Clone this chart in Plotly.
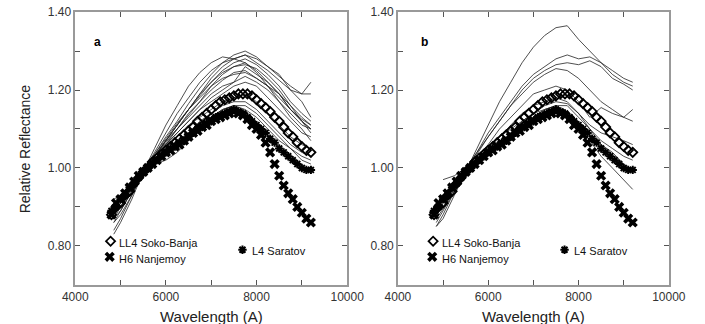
import plotly.graph_objects as go

# ---------------- data ----------------
grid_w = [4850, 5000, 5250, 5500, 5750, 6000, 6250, 6500, 6750, 7000,
          7250, 7500, 7750, 8000, 8250, 8500, 8750, 9000, 9200]

spectra_a = [
    [0.86, 0.89, 0.94, 0.99, 1.05, 1.11, 1.16, 1.21, 1.245, 1.27, 1.285, 1.28, 1.27, 1.245, 1.21, 1.18, 1.15, 1.125, 1.11],
    [0.84, 0.87, 0.93, 0.99, 1.035, 1.08, 1.12, 1.165, 1.205, 1.24, 1.27, 1.29, 1.30, 1.285, 1.26, 1.235, 1.21, 1.19, 1.22],
    [0.87, 0.90, 0.945, 0.99, 1.03, 1.07, 1.11, 1.15, 1.19, 1.23, 1.26, 1.28, 1.29, 1.27, 1.25, 1.225, 1.20, 1.19, 1.19],
    [0.88, 0.90, 0.95, 0.99, 1.03, 1.07, 1.11, 1.15, 1.185, 1.22, 1.25, 1.27, 1.28, 1.265, 1.24, 1.21, 1.17, 1.14, 1.12],
    [0.89, 0.91, 0.95, 1.00, 1.03, 1.07, 1.10, 1.14, 1.17, 1.21, 1.24, 1.26, 1.27, 1.25, 1.22, 1.19, 1.16, 1.13, 1.11],
    [0.88, 0.90, 0.95, 0.99, 1.03, 1.06, 1.10, 1.13, 1.16, 1.19, 1.21, 1.22, 1.26, 1.24, 1.22, 1.19, 1.15, 1.12, 1.10],
    [0.90, 0.92, 0.95, 0.99, 1.02, 1.06, 1.09, 1.12, 1.15, 1.18, 1.20, 1.22, 1.235, 1.22, 1.20, 1.17, 1.14, 1.11, 1.10],
    [0.89, 0.91, 0.95, 1.00, 1.03, 1.06, 1.09, 1.12, 1.15, 1.17, 1.19, 1.21, 1.22, 1.21, 1.18, 1.15, 1.12, 1.09, 1.08],
    [0.90, 0.92, 0.95, 0.99, 1.02, 1.05, 1.08, 1.11, 1.13, 1.15, 1.17, 1.18, 1.19, 1.17, 1.14, 1.11, 1.08, 1.06, 1.05],
    [0.91, 0.92, 0.96, 0.99, 1.02, 1.04, 1.07, 1.09, 1.12, 1.14, 1.16, 1.17, 1.17, 1.15, 1.12, 1.09, 1.06, 1.04, 1.03],
    [0.89, 0.91, 0.95, 0.99, 1.01, 1.02, 1.04, 1.07, 1.10, 1.13, 1.15, 1.16, 1.16, 1.14, 1.11, 1.08, 1.05, 1.03, 1.02],
    [0.90, 0.93, 0.96, 1.00, 1.02, 1.04, 1.06, 1.09, 1.11, 1.13, 1.15, 1.16, 1.15, 1.13, 1.10, 1.07, 1.05, 1.02, 1.01],
    [0.92, 0.93, 0.96, 0.99, 1.03, 1.07, 1.11, 1.15, 1.18, 1.21, 1.23, 1.24, 1.245, 1.23, 1.21, 1.19, 1.15, 1.12, 1.09],
    [0.86, 0.88, 0.93, 0.99, 1.04, 1.09, 1.14, 1.18, 1.22, 1.25, 1.27, 1.28, 1.29, 1.28, 1.26, 1.24, 1.20, 1.17, 1.13],
    [0.83, 0.86, 0.92, 0.99, 1.035, 1.075, 1.115, 1.15, 1.19, 1.22, 1.245, 1.26, 1.265, 1.255, 1.23, 1.20, 1.16, 1.12, 1.10],
    [0.87, 0.89, 0.94, 0.99, 1.03, 1.065, 1.10, 1.135, 1.17, 1.20, 1.225, 1.245, 1.25, 1.23, 1.21, 1.17, 1.13, 1.10, 1.07],
]

spectra_b = [
    [0.85, 0.88, 0.94, 0.99, 1.05, 1.11, 1.17, 1.22, 1.27, 1.31, 1.34, 1.36, 1.365, 1.33, 1.30, 1.27, 1.25, 1.23, 1.22],
    [0.86, 0.89, 0.94, 0.99, 1.04, 1.09, 1.13, 1.17, 1.21, 1.24, 1.26, 1.28, 1.29, 1.28, 1.285, 1.27, 1.24, 1.22, 1.21],
    [0.87, 0.895, 0.945, 0.99, 1.035, 1.08, 1.12, 1.16, 1.20, 1.23, 1.25, 1.265, 1.27, 1.265, 1.275, 1.26, 1.23, 1.215, 1.20],
    [0.88, 0.90, 0.95, 1.00, 1.04, 1.08, 1.12, 1.16, 1.19, 1.22, 1.24, 1.255, 1.25, 1.23, 1.20, 1.17, 1.15, 1.13, 1.12],
    [0.90, 0.92, 0.96, 1.00, 1.03, 1.06, 1.10, 1.13, 1.16, 1.19, 1.20, 1.21, 1.20, 1.17, 1.13, 1.155, 1.14, 1.13, 1.15],
    [0.88, 0.91, 0.95, 0.99, 1.02, 1.05, 1.08, 1.10, 1.12, 1.14, 1.15, 1.16, 1.14, 1.11, 1.07, 1.03, 1.00, 0.97, 0.945],
    [0.89, 0.92, 0.96, 0.99, 1.02, 1.05, 1.08, 1.11, 1.14, 1.16, 1.17, 1.18, 1.17, 1.14, 1.11, 1.09, 1.08, 1.07, 1.06],
    [None, 0.97, 0.98, 1.00, 1.02, 1.04, 1.06, 1.08, 1.11, 1.13, 1.15, 1.16, 1.16, 1.13, 1.10, 1.07, 1.05, 1.03, 1.02],
    [0.85, 0.87, 0.93, 0.99, 1.02, 1.04, 1.06, 1.09, 1.12, 1.14, 1.16, 1.17, 1.165, 1.14, 1.10, 1.06, 1.04, 1.01, 0.99],
]

marker_w = list(range(4800, 9201, 100))

soko_banja = [0.88, 0.90, 0.91, 0.93, 0.94, 0.96, 0.975, 0.99, 1.00, 1.015, 1.025, 1.035, 1.045,
              1.055, 1.065, 1.075, 1.085, 1.095, 1.105, 1.12, 1.13, 1.14, 1.15, 1.16, 1.17, 1.175,
              1.18, 1.185, 1.19, 1.19, 1.19, 1.185, 1.175, 1.165, 1.155, 1.145, 1.13, 1.12, 1.105,
              1.09, 1.08, 1.065, 1.055, 1.045, 1.04]
saratov = [0.89, 0.90, 0.92, 0.93, 0.95, 0.96, 0.975, 0.99, 1.00, 1.01, 1.02, 1.03, 1.04, 1.05,
           1.055, 1.065, 1.07, 1.08, 1.09, 1.10, 1.105, 1.115, 1.12, 1.13, 1.135, 1.14, 1.145, 1.15,
           1.145, 1.14, 1.13, 1.12, 1.11, 1.10, 1.09, 1.075, 1.065, 1.05, 1.04, 1.03, 1.02, 1.01,
           1.00, 0.995, 0.995]
nanjemoy = [0.88, 0.91, 0.92, 0.935, 0.95, 0.965, 0.98, 0.99, 1.00, 1.01, 1.02, 1.03, 1.04, 1.045,
            1.055, 1.06, 1.07, 1.08, 1.09, 1.095, 1.105, 1.11, 1.12, 1.125, 1.13, 1.135, 1.14, 1.145,
            1.14, 1.135, 1.125, 1.11, 1.10, 1.085, 1.065, 1.04, 1.01, 0.98, 0.955, 0.935, 0.92, 0.90,
            0.885, 0.87, 0.86]

x_ticks = [4000, 6000, 8000, 10000]
x_tick_text = ["4000", "6000", "8000", "10000"]
y_ticks = [0.80, 1.00, 1.20, 1.40]
y_tick_text = ["0.80", "1.00", "1.20", "1.40"]

FONT = "Liberation Sans, Arial, sans-serif"

W, H = 705, 324


def fx(px):
    return px / W


def fy(py):
    return 1 - py / H


fig = go.Figure()

for panel, spectra in (("", spectra_a), ("2", spectra_b)):
    xa, ya = "x" + panel, "y" + panel
    for s in spectra:
        fig.add_trace(go.Scatter(x=grid_w, y=s, mode="lines", xaxis=xa, yaxis=ya,
                                 line=dict(color="#222", width=0.8), showlegend=False,
                                 hoverinfo="skip"))
    fig.add_trace(go.Scatter(x=marker_w, y=soko_banja, mode="markers", xaxis=xa, yaxis=ya,
                             marker=dict(symbol="diamond-open", size=7, color="black",
                                         line=dict(width=1.8, color="black")),
                             showlegend=False))
    fig.add_trace(go.Scatter(x=marker_w, y=saratov, mode="markers", xaxis=xa, yaxis=ya,
                             marker=dict(symbol="asterisk-open", size=7, color="black",
                                         line=dict(width=2, color="black")),
                             showlegend=False))
    fig.add_trace(go.Scatter(x=marker_w, y=nanjemoy, mode="markers", xaxis=xa, yaxis=ya,
                             marker=dict(symbol="x", size=9, color="black",
                                         line=dict(width=0)),
                             showlegend=False))
    # legend glyphs
    fig.add_trace(go.Scatter(x=[4780], y=[0.812], mode="markers", xaxis=xa, yaxis=ya,
                             marker=dict(symbol="diamond-open", size=7, color="black",
                                         line=dict(width=1.8, color="black")),
                             showlegend=False))
    fig.add_trace(go.Scatter(x=[4760], y=[0.772], mode="markers", xaxis=xa, yaxis=ya,
                             marker=dict(symbol="x", size=9, color="black", line=dict(width=0)),
                             showlegend=False))
    fig.add_trace(go.Scatter(x=[7690], y=[0.79], mode="markers", xaxis=xa, yaxis=ya,
                             marker=dict(symbol="asterisk-open", size=7, color="black",
                                         line=dict(width=2, color="black")),
                             showlegend=False))
    for txt, x, y in (("LL4 Soko-Banja", 4930, 0.808), ("H6 Nanjemoy", 4930, 0.767),
                      ("L4 Saratov", 7850, 0.786)):
        fig.add_annotation(x=x, y=y, xref=xa, yref=ya, text=txt, showarrow=False,
                           xanchor="left", yanchor="middle",
                           font=dict(family=FONT, size=11, color="#111"))

fig.add_annotation(x=4500, y=1.322, xref="x", yref="y", text="<b>a</b>", showarrow=False,
                   font=dict(family=FONT, size=12, color="black"))
fig.add_annotation(x=4590, y=1.322, xref="x2", yref="y2", text="<b>b</b>", showarrow=False,
                   font=dict(family=FONT, size=12, color="black"))

axis_common = dict(showgrid=False, zeroline=False, showline=True, linecolor="#999",
                   linewidth=1.5, mirror="allticks", ticks="inside", ticklen=5,
                   tickcolor="#555", tickwidth=1, ticklabeloverflow="allow",
                   tickfont=dict(family=FONT, size=12, color="#333"))

xdom_a = [fx(65), fx(349)]
xdom_b = [fx(402), fx(685)]
ydom = [fy(284), fy(5)]

xminor = dict(dtick=1000, tick0=4000, ticks="inside", ticklen=5, tickcolor="#555")
yminor = dict(dtick=0.1, tick0=0.7, ticks="inside", ticklen=5, tickcolor="#555")

fig.update_layout(
    width=W, height=H, margin=dict(l=0, r=0, t=0, b=0),
    paper_bgcolor="white", plot_bgcolor="white",
    xaxis=dict(domain=xdom_a, range=[4000, 10000], tickvals=x_ticks, ticktext=x_tick_text,
               anchor="y", minor=xminor, **axis_common),
    yaxis=dict(domain=ydom, range=[0.7, 1.4005], tickvals=y_ticks, ticktext=y_tick_text,
               anchor="x", minor=yminor, **axis_common),
    xaxis2=dict(domain=xdom_b, range=[4000, 10000], tickvals=x_ticks, ticktext=x_tick_text,
                anchor="y2", minor=xminor, **axis_common),
    yaxis2=dict(domain=ydom, range=[0.7, 1.4005], tickvals=y_ticks, ticktext=y_tick_text,
                anchor="x2", minor=yminor, **axis_common),
)

fig.add_annotation(x=fx(12), y=fy(145), xref="paper", yref="paper",
                   xanchor="center", yanchor="middle",
                   text="Relative Reflectance", textangle=-90, showarrow=False,
                   font=dict(family=FONT, size=14, color="#222"))
for cx in (207, 544):
    fig.add_annotation(x=fx(cx), y=fy(316), xref="paper", yref="paper",
                       xanchor="center", yanchor="middle",
                       text="Wavelength (A)", showarrow=False,
                       font=dict(family=FONT, size=15, color="#222"))

fig.write_html("out.html", config={"displayModeBar": False},
               post_script="document.body.style.margin='0';")
